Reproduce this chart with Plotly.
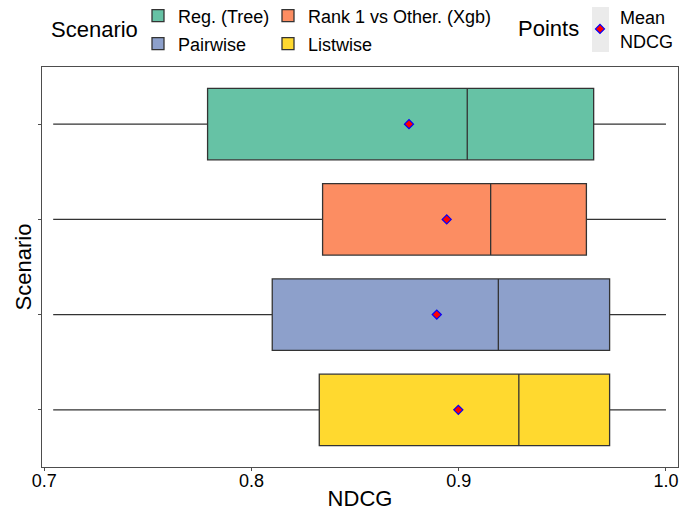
import plotly.graph_objects as go

# Summary statistics of NDCG per scenario
scenarios = ["Reg. (Tree)", "Rank 1 vs Other. (Xgb)", "Pairwise", "Listwise"]
colors = ["#66C2A5", "#FC8D62", "#8DA0CB", "#FFD92F"]
lower = [0.7043, 0.7043, 0.7043, 0.7043]
q1 = [0.7788, 0.8343, 0.8100, 0.8327]
median = [0.9041, 0.9154, 0.9191, 0.9290]
q3 = [0.9651, 0.9616, 0.9728, 0.9728]
upper = [1.0, 1.0, 1.0, 1.0]
mean_ndcg = [0.8760, 0.8942, 0.8894, 0.8998]

x_ticks = [0.7, 0.8, 0.9, 1.0]
x_tick_text = ["0.7", "0.8", "0.9", "1.0"]

FONT = "Liberation Sans, Arial, Helvetica, sans-serif"
L, R, T, B = 42, 3, 67, 44
W, H = 681, 511
PW, PH = W - L - R, H - T - B


def px_x(p):
    return (p - L) / PW


def px_y(p):
    return 1 + (T - p) / PH


fig = go.Figure()

legend_names = ["legend", "legend2", "legend3", "legend4"]
for i, name in enumerate(scenarios):
    fig.add_trace(go.Box(
        y=[name], q1=[q1[i]], median=[median[i]], q3=[q3[i]],
        lowerfence=[lower[i]], upperfence=[upper[i]],
        orientation="h", name=name, width=0.75, whiskerwidth=0,
        fillcolor=colors[i], line=dict(color="#333333", width=1.3),
        boxpoints=False, hoverinfo="skip",
        legend=legend_names[i], showlegend=True,
    ))

fig.add_trace(go.Scatter(
    x=mean_ndcg, y=scenarios, mode="markers", name="Mean<br>NDCG",
    marker=dict(symbol="diamond", size=7, color="red",
                line=dict(color="blue", width=1.2)),
    legend="legend5", showlegend=True,
))

legend_style = dict(
    bgcolor="rgba(0,0,0,0)", borderwidth=0,
    font=dict(family=FONT, size=18, color="black"),
    xanchor="left", yanchor="middle", orientation="v",
)
col_x = [px_x(138), px_x(268)]
row_y = [px_y(16), px_y(44)]
layout_legends = {
    "legend": dict(x=col_x[0], y=row_y[0], **legend_style),
    "legend2": dict(x=col_x[1], y=row_y[0], **legend_style),
    "legend3": dict(x=col_x[0], y=row_y[1], **legend_style),
    "legend4": dict(x=col_x[1], y=row_y[1], **legend_style),
    "legend5": dict(x=px_x(580), y=px_y(29), **legend_style),
}

fig.update_layout(
    width=W, height=H,
    margin=dict(l=L, r=R, t=T, b=B, autoexpand=False),
    paper_bgcolor="white", plot_bgcolor="white",
    font=dict(family=FONT, color="black"),
    showlegend=True,
    **layout_legends,
    xaxis=dict(
        range=[0.6989, 1.0058], tickvals=x_ticks, ticktext=x_tick_text,
        showgrid=False, zeroline=False, showline=True, mirror=True,
        linecolor="#4d4d4d", linewidth=1.2,
        ticks="outside", ticklen=3, tickcolor="#4d4d4d",
        ticklabelstandoff=-6,
        tickfont=dict(family=FONT, size=18, color="black"),
        title=dict(text="NDCG", font=dict(family=FONT, size=22, color="black"),
                   standoff=9),
    ),
    yaxis=dict(
        type="category", categoryorder="array",
        categoryarray=scenarios[::-1], range=[-0.6, 3.6],
        showgrid=False, zeroline=False, showline=True, mirror=True,
        linecolor="#4d4d4d", linewidth=1.2,
        ticks="outside", ticklen=3, tickcolor="#4d4d4d",
        showticklabels=False,
        title=dict(text="Scenario", font=dict(family=FONT, size=22, color="black"),
                   standoff=0),
    ),
    shapes=[dict(
        type="rect", xref="paper", yref="paper",
        x0=px_x(592), x1=px_x(609), y0=px_y(52), y1=px_y(7),
        fillcolor="#EBEBEB", line=dict(width=0), layer="below",
    )],
    annotations=[
        dict(text="Scenario", xref="paper", yref="paper", x=px_x(94.5), y=px_y(30),
             xanchor="center", yanchor="middle", showarrow=False,
             font=dict(family=FONT, size=22, color="black")),
        dict(text="Points", xref="paper", yref="paper", x=px_x(548), y=px_y(28),
             xanchor="center", yanchor="middle", showarrow=False,
             font=dict(family=FONT, size=22, color="black")),
    ],
)

fig.write_html("out.html")
